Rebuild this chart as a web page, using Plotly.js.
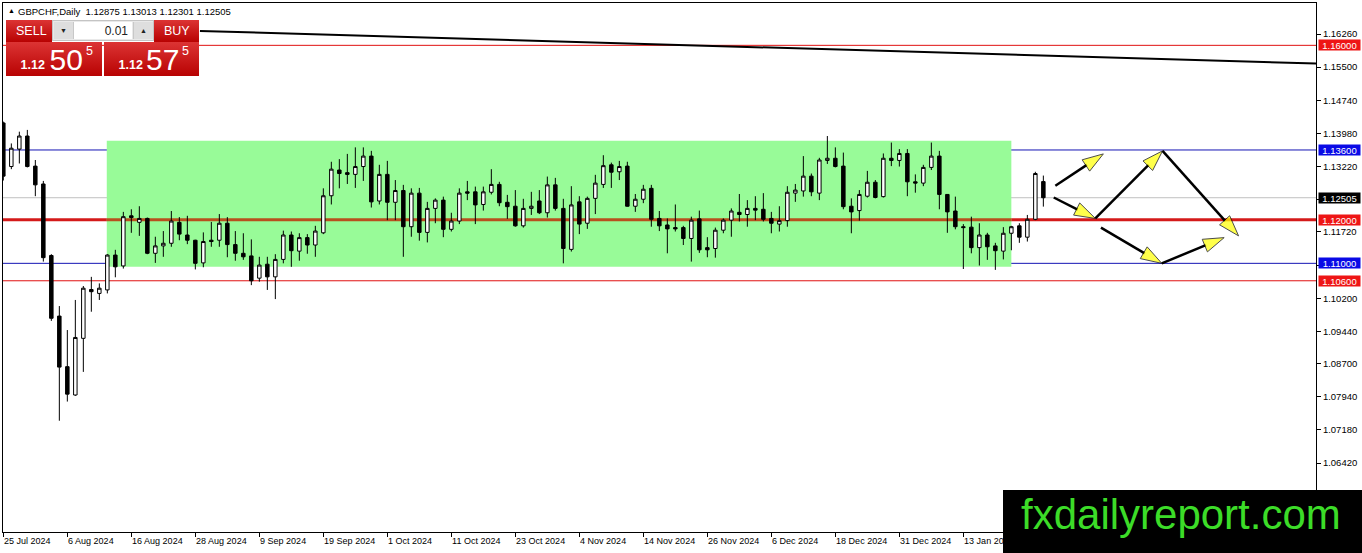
<!DOCTYPE html>
<html><head><meta charset="utf-8">
<script src="https://cdn.plot.ly/plotly-3.0.1.min.js"></script>
<style>
html,body{margin:0;padding:0;background:#fff;}
#wrap{position:relative;width:1362px;height:553px;overflow:hidden;}
#chart{position:absolute;left:0;top:0;width:1362px;height:553px;}
.ov{position:absolute;font-family:"Liberation Sans",Arial,sans-serif;line-height:1;white-space:pre;}
.red{background:linear-gradient(to bottom,#dc3434,#b80202);color:#fff;}
.ab{position:absolute;line-height:1;}
</style></head><body>
<div id="wrap">
<div id="chart"></div>
<div class="ov" style="left:8px;top:7px;font-size:7px;color:#000;">▲</div>
<div class="ov" id="hdr" style="left:18px;top:6.5px;font-size:9.5px;color:#000;"></div>
<div class="ov red" style="left:6px;top:20px;width:46px;height:22px;"><span class="ab" style="left:10px;top:4.5px;font-size:12.5px;">SELL</span></div>
<div class="ov" style="left:52px;top:20px;width:102px;height:21px;background:#e9e9e9;border:1px solid #c4c4c4;box-sizing:border-box;">
  <div class="ab" style="left:1px;top:1px;width:19px;height:17px;background:#dedede;border-right:1px solid #c8c8c8;"><span class="ab" style="left:6px;top:5px;font-size:7px;color:#222;">▼</span></div>
  <div class="ab" style="left:21px;top:1px;width:58px;height:17px;background:#fff;"><span class="ab" id="lot" style="right:4px;top:3px;font-size:12px;color:#222;"></span></div>
  <div class="ab" style="left:80px;top:1px;width:19px;height:17px;background:#dedede;border-left:1px solid #c8c8c8;"><span class="ab" style="left:6px;top:5px;font-size:7px;color:#222;">▲</span></div>
</div>
<div class="ov red" style="left:154px;top:20px;width:45px;height:22px;"><span class="ab" style="left:10px;top:4.5px;font-size:12.5px;">BUY</span></div>
<div class="ov red" style="left:6px;top:42px;width:96px;height:34px;">
  <span class="ab" id="sellA" style="left:14.5px;top:17.4px;font-size:12.5px;font-weight:bold;"></span>
  <span class="ab" id="sellB" style="left:43.5px;top:2.5px;font-size:30px;"></span>
  <span class="ab" id="sellC" style="left:80px;top:2.5px;font-size:12.5px;"></span>
</div>
<div class="ov red" style="left:104px;top:42px;width:95px;height:34px;">
  <span class="ab" id="buyA" style="left:14.5px;top:17.4px;font-size:12.5px;font-weight:bold;"></span>
  <span class="ab" id="buyB" style="left:42px;top:2.5px;font-size:30px;"></span>
  <span class="ab" id="buyC" style="left:78px;top:2.5px;font-size:12.5px;"></span>
</div>
<div class="ov" style="left:1003px;top:490px;width:359px;height:63px;background:#000;">
  <span class="ab" style="left:18px;top:4px;font-size:42px;color:#3cdc28;">fxdailyreport.com</span>
</div>
</div>
<script>
// ---------------- data ----------------
const symbolName = "GBPCHF,Daily";
const lotSize = "0.01";
const bidPrice = 1.12505;
const askPrice = 1.12575;

const openP = [1.1422,1.1322,1.1362,1.1392,1.1323,1.1282,1.1118,1.0979,1.0863,1.0798,
1.0928,1.1040,1.1031,1.1039,1.1119,1.1094,1.1209,1.1194,1.1203,1.1123,
1.1140,1.1146,1.1194,1.1165,1.1153,1.1101,1.1153,1.1153,1.1192,1.1143,
1.1123,1.1117,1.1066,1.1098,1.1069,1.1109,1.1165,1.1128,1.1159,1.1142,
1.1170,1.1255,1.1314,1.1308,1.1304,1.1322,1.1346,1.1243,1.1304,1.1240,
1.1267,1.1184,1.1261,1.1171,1.1226,1.1245,1.1178,1.1197,1.1264,1.1264,
1.1235,1.1263,1.1281,1.1240,1.1231,1.1186,1.1226,1.1243,1.1216,1.1280,
1.1226,1.1132,1.1241,1.1192,1.1249,1.1281,1.1326,1.1310,1.1323,1.1231,
1.1247,1.1272,1.1203,1.1188,1.1182,1.1182,1.1157,1.1202,1.1136,1.1134,
1.1176,1.1199,1.1217,1.1212,1.1226,1.1224,1.1203,1.1190,1.1198,1.1261,
1.1266,1.1300,1.1261,1.1336,1.1341,1.1323,1.1231,1.1221,1.1254,1.1286,
1.1253,1.1341,1.1336,1.1352,1.1287,1.1284,1.1320,1.1346,1.1258,1.1220,
1.1184,1.1183,1.1136,1.1165,1.1140,1.1128,1.1169,1.1186,1.1160,1.1201,
1.12875];
const highP = [1.1425,1.1375,1.1402,1.1406,1.1337,1.1289,1.1121,1.1002,1.0947,1.1016,
1.1048,1.1069,1.1054,1.1121,1.1131,1.1218,1.1224,1.1231,1.1205,1.1161,
1.1174,1.1220,1.1206,1.1209,1.1154,1.1171,1.1195,1.1213,1.1206,1.1174,
1.1169,1.1155,1.1115,1.1115,1.1121,1.1175,1.1173,1.1169,1.1167,1.1186,
1.1272,1.1333,1.1339,1.1351,1.1366,1.1366,1.1358,1.1326,1.1335,1.1291,
1.1280,1.1272,1.1273,1.1241,1.1249,1.1253,1.1216,1.1272,1.1289,1.1276,
1.1276,1.1316,1.1287,1.1257,1.1268,1.1248,1.1264,1.1268,1.1299,1.1296,
1.1248,1.1277,1.1254,1.1253,1.1303,1.1348,1.1331,1.1335,1.1333,1.1259,
1.1280,1.1280,1.1220,1.1203,1.1235,1.1186,1.1207,1.1221,1.1160,1.1182,
1.1203,1.1226,1.1259,1.1245,1.1254,1.1261,1.1218,1.1231,1.1277,1.1282,
1.1346,1.1306,1.1342,1.1392,1.1366,1.1354,1.1249,1.1268,1.1312,1.1291,
1.1352,1.1377,1.1362,1.1362,1.1304,1.1326,1.1377,1.1358,1.1259,1.1253,
1.1190,1.1207,1.1192,1.1170,1.1147,1.1183,1.1186,1.1192,1.1211,1.1310,
1.13013];
const lowP = [1.1290,1.1316,1.1329,1.1320,1.1254,1.1104,1.0968,1.0739,1.0783,1.0796,
1.0851,1.0989,1.1016,1.1031,1.1068,1.1088,1.1170,1.1163,1.1121,1.1101,
1.1115,1.1138,1.1153,1.1144,1.1086,1.1091,1.1138,1.1138,1.1114,1.1106,
1.1108,1.1050,1.1058,1.1039,1.1018,1.1100,1.1092,1.1106,1.1122,1.1115,
1.1167,1.1235,1.1272,1.1282,1.1273,1.1289,1.1228,1.1235,1.1199,1.1199,
1.1115,1.1161,1.1152,1.1148,1.1192,1.1160,1.1173,1.1190,1.1245,1.1190,
1.1221,1.1258,1.1231,1.1202,1.1184,1.1182,1.1211,1.1213,1.1205,1.1221,
1.1100,1.1127,1.1167,1.1179,1.1213,1.1273,1.1273,1.1291,1.1230,1.1218,
1.1238,1.1184,1.1174,1.1123,1.1173,1.1142,1.1104,1.1124,1.1114,1.1113,
1.1169,1.1161,1.1196,1.1184,1.1199,1.1196,1.1169,1.1173,1.1184,1.1241,
1.1253,1.1254,1.1245,1.1328,1.1320,1.1224,1.1169,1.1198,1.1251,1.1249,
1.1251,1.1323,1.1322,1.1254,1.1262,1.1277,1.1314,1.1224,1.1170,1.1178,
1.1087,1.1123,1.1095,1.1108,1.1085,1.1109,1.1130,1.1147,1.1150,1.1199,
1.12301];
const closeP = [1.1300,1.1364,1.1392,1.1322,1.1280,1.1113,1.0974,1.0862,1.0800,1.0930,
1.1043,1.1035,1.1043,1.1119,1.1092,1.1207,1.1205,1.1203,1.1123,1.1140,
1.1146,1.1197,1.1167,1.1153,1.1100,1.1150,1.1150,1.1192,1.1143,1.1123,
1.1115,1.1060,1.1096,1.1069,1.1109,1.1165,1.1129,1.1159,1.1142,1.1174,
1.1255,1.1316,1.1306,1.1304,1.1322,1.1346,1.1241,1.1304,1.1240,1.1267,
1.1184,1.1261,1.1171,1.1226,1.1245,1.1178,1.1197,1.1261,1.1261,1.1234,
1.1264,1.1281,1.1239,1.1230,1.1186,1.1226,1.1231,1.1216,1.1280,1.1226,
1.1134,1.1234,1.1190,1.1249,1.1284,1.1324,1.1309,1.1322,1.1231,1.1247,
1.1270,1.1201,1.1186,1.1179,1.1179,1.1157,1.1199,1.1131,1.1131,1.1176,
1.1199,1.1220,1.1212,1.1226,1.1222,1.1201,1.1192,1.1198,1.1263,1.1268,
1.1300,1.1264,1.1337,1.1341,1.1322,1.1230,1.1218,1.1258,1.1286,1.1251,
1.1341,1.1336,1.1352,1.1287,1.1284,1.1320,1.1346,1.1258,1.1218,1.1184,
1.1182,1.1136,1.1165,1.1138,1.1129,1.1169,1.1184,1.1160,1.1201,1.1306,
1.12505];

const dateTickIdx = [0,8,16,24,32,40,48,56,64,72,80,88,96,104,112,120];
const dateTickText = ["25 Jul 2024","6 Aug 2024","16 Aug 2024","28 Aug 2024","9 Sep 2024","19 Sep 2024",
"1 Oct 2024","11 Oct 2024","23 Oct 2024","4 Nov 2024","14 Nov 2024","26 Nov 2024","6 Dec 2024",
"18 Dec 2024","31 Dec 2024","13 Jan 2025"];

const priceTickVals = [1.1626,1.1550,1.1474,1.1398,1.1322,1.1246,1.1172,1.1096,1.1020,1.0944,1.0870,1.0794,1.0718,1.0642];
const priceTickText = ["1.16260","1.15500","1.14740","1.13980","1.13220","1.12460","1.11720","1.10960","1.10200","1.09440","1.08700","1.07940","1.07180","1.06420"];

const levelPrices = [1.16000, 1.13600, 1.12505, 1.12000, 1.11000, 1.10600];
const levelKinds  = ["red", "blue", "grey", "redThick", "blue", "red"];

const rangeBoxIdx = [12.93, 126.0];
const rangeBoxPrice = [1.1092, 1.1381];

const trendIdx = [24.58, 164.08];
const trendPrice = [1.16329, 1.15583];

const arrowFromIdx   = [131.5, 131.3, 136.5, 144.9, 137.2, 144.8];
const arrowFromPrice = [1.1278, 1.1251, 1.1203, 1.1358, 1.1182, 1.1100];
const arrowToIdx     = [137.5, 136.5, 144.9, 154.4, 144.8, 152.6];
const arrowToPrice   = [1.1351, 1.1203, 1.1358, 1.1163, 1.1100, 1.1159];

// ---------------- styles ----------------
const FONT = "Liberation Sans, Arial, sans-serif";
const levelStyle = {
  red:      {line:"#e01010", width:1, tag:"#ee1515"},
  redThick: {line:"#d41a1a", width:3, tag:"#ee1515"},
  blue:     {line:"#1414b4", width:1, tag:"#0a0ae6"},
  grey:     {line:"#c0c0c0", width:1, tag:"#000000"}
};
const xRange = [-0.041, 164.08];
const yRange = [1.04838, 1.16971];

// ---------------- overlays text ----------------
const last = openP.length - 1;
document.getElementById('hdr').textContent = symbolName + "  " +
  [openP[last], highP[last], lowP[last], closeP[last]].map(v => v.toFixed(5)).join(" ");
document.getElementById('lot').textContent = lotSize;
function splitPrice(p){ const s = p.toFixed(5); return [s.slice(0,4), s.slice(4,6), s.slice(6)]; }
const sp = splitPrice(bidPrice), bp = splitPrice(askPrice);
document.getElementById('sellA').textContent = sp[0];
document.getElementById('sellB').textContent = sp[1];
document.getElementById('sellC').textContent = sp[2];
document.getElementById('buyA').textContent = bp[0];
document.getElementById('buyB').textContent = bp[1];
document.getElementById('buyC').textContent = bp[2];

// ---------------- traces ----------------
const idx = openP.map((_, i) => i);
const traces = [{
  type: 'candlestick', x: idx, open: openP, high: highP, low: lowP, close: closeP,
  whiskerwidth: 0, hoverinfo: 'skip',
  increasing: {line: {color: '#000', width: 1}, fillcolor: '#ffffff'},
  decreasing: {line: {color: '#000', width: 1}, fillcolor: '#000000'}
}];
for (let k = 0; k < arrowFromIdx.length; k++) {
  traces.push({
    type: 'scatter', mode: 'lines+markers', hoverinfo: 'skip',
    x: [arrowFromIdx[k], arrowToIdx[k]], y: [arrowFromPrice[k], arrowToPrice[k]],
    line: {color: '#000', width: 2.5},
    marker: {symbol: 'arrow', angleref: 'previous', size: [0, 22], color: '#ffff00',
             line: {color: '#000', width: 1}}
  });
}

// ---------------- shapes ----------------
const shapes = [{
  type: 'rect', xref: 'x', yref: 'y', layer: 'below',
  x0: rangeBoxIdx[0], x1: rangeBoxIdx[1], y0: rangeBoxPrice[0], y1: rangeBoxPrice[1],
  fillcolor: '#98fb98', line: {width: 0}
}];
levelPrices.forEach((p, i) => {
  const st = levelStyle[levelKinds[i]];
  shapes.push({type: 'line', xref: 'paper', yref: 'y', layer: 'below',
    x0: 0, x1: 1, y0: p, y1: p, line: {color: st.line, width: st.width}});
  if (levelKinds[i] === 'redThick') {
    shapes.push({type: 'line', xref: 'x', yref: 'y', layer: 'below',
      x0: rangeBoxIdx[0], x1: rangeBoxIdx[1], y0: p, y1: p, line: {color: '#b8501e', width: st.width}});
  }
});
shapes.push({type: 'line', xref: 'x', yref: 'y', layer: 'below',
  x0: trendIdx[0], x1: trendIdx[1], y0: trendPrice[0], y1: trendPrice[1],
  line: {color: '#000', width: 2}});

// ---------------- annotations (price tags) ----------------
const annotations = levelPrices.map((p, i) => ({
  xref: 'paper', yref: 'y', x: 1, y: p, xanchor: 'left', yanchor: 'middle', xshift: 2,
  text: p.toFixed(5), showarrow: false, bgcolor: levelStyle[levelKinds[i]].tag,
  width: 41, height: 10, borderpad: 0, align: 'center',
  font: {family: FONT, size: 9.5, color: '#fff'}
}));

const layout = {
  width: 1362, height: 553,
  margin: {l: 3, r: 46, t: 3, b: 21, pad: 0},
  paper_bgcolor: '#fff', plot_bgcolor: '#fff',
  showlegend: false, boxgap: 0.38,
  xaxis: {
    range: xRange, showgrid: false, zeroline: false, showline: true, mirror: true,
    linecolor: '#000', linewidth: 1, ticks: 'outside', ticklen: 4, tickcolor: '#000',
    tickvals: dateTickIdx.map(v => v - 0.03), ticktext: dateTickText,
    ticklabelposition: 'outside right',
    tickfont: {family: FONT, size: 9, color: '#000'},
    rangeslider: {visible: false}, fixedrange: true
  },
  yaxis: {
    side: 'right', range: yRange, showgrid: false, zeroline: false, showline: true, mirror: true,
    linecolor: '#000', linewidth: 1, ticks: 'outside', ticklen: 4, tickcolor: '#000',
    tickvals: priceTickVals, ticktext: priceTickText,
    tickfont: {family: FONT, size: 9.5, color: '#000'}, fixedrange: true
  },
  shapes: shapes, annotations: annotations
};

Plotly.newPlot('chart', traces, layout, {displayModeBar: false, staticPlot: true});
</script>
</body></html>
